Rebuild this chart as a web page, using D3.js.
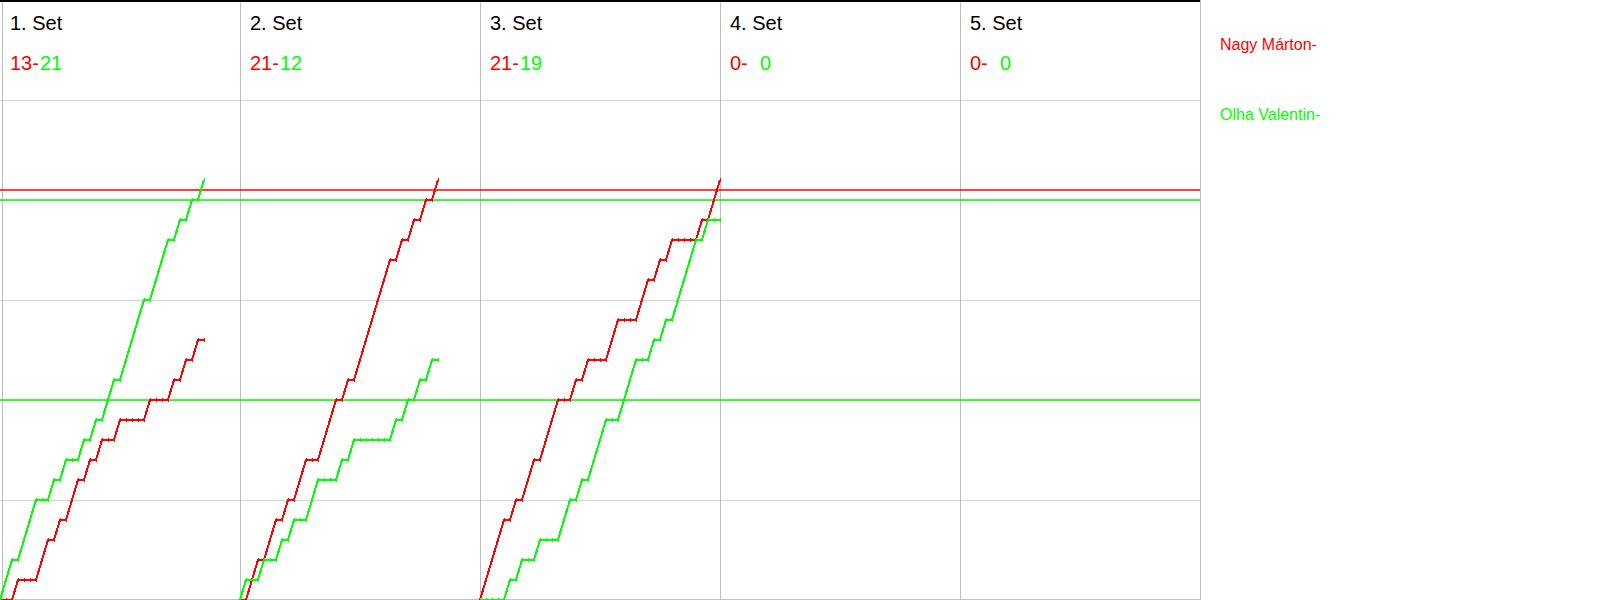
<!DOCTYPE html>
<html>
<head>
<meta charset="utf-8">
<script src="https://cdn.jsdelivr.net/npm/d3@7"></script>
<style>
  html, body { margin: 0; padding: 0; background: #fff; }
  svg { display: block; }
  text { font-family: "Liberation Sans", Arial, sans-serif; }
</style>
</head>
<body>
<div id="chart"></div>
<script>
// ---------- DATA ----------
const players = ["Nagy Márton-", "Olha Valentin-"];
const playerColors = ["#ff0000", "#00ff00"];
const setLabels = ["1. Set", "2. Set", "3. Set", "4. Set", "5. Set"];
const redFinal = [13, 21, 21, 0, 0];
const greenFinal = [21, 12, 19, 0, 0];

// cumulative score after each rally (index 0 = start of set)
const set1Red   = [0,0,0,1,1,1,1,2,3,3,4,4,5,6,6,7,7,8,8,8,9,9,9,9,9,10,10,10,10,11,11,12,12,13,13];
const set1Green = [0,1,2,2,3,4,5,5,5,6,6,7,7,7,8,8,9,9,10,11,11,12,13,14,15,15,16,17,18,18,19,19,20,20,21];
const set2Red   = [0,0,1,2,2,3,4,4,5,5,6,7,7,7,8,9,10,10,11,11,12,13,14,15,16,17,17,18,18,19,19,20,20,21];
const set2Green = [0,1,1,1,2,2,2,3,3,4,4,4,5,6,6,6,6,7,7,8,8,8,8,8,8,8,9,9,10,10,11,11,12,12];
const set3Red   = [0,1,2,3,4,4,5,5,6,7,7,8,9,10,10,10,11,11,12,12,12,12,13,14,14,14,14,15,16,16,17,17,18,18,18,18,18,19,19,20,21];
const set3Green = [0,0,0,0,0,1,1,2,2,2,3,3,3,3,4,5,5,6,6,7,8,9,9,9,10,11,12,12,12,13,13,14,14,15,16,17,18,18,19,19,19];
const set4Red = [], set4Green = [], set5Red = [], set5Green = [];

// reference score levels
const redRefLevels = [20.5];
const greenRefLevels = [20, 10];
const gridLevels = [5, 10, 15, 20, 25];

// ---------- CHART ----------
const W = 1600, H = 600;
const panelW = 240, nSets = 5;
const plotRight = panelW * nSets;
const maxRallies = 40;

const svg = d3.select("#chart").append("svg").attr("width", W).attr("height", H);

const y = d3.scaleLinear().domain([0, 30]).range([600, 0]);
const panelX = d3.scaleLinear().domain([0, nSets]).range([0, plotRight]);

// horizontal grid
svg.append("g").selectAll("line").data(gridLevels).join("line")
  .attr("x1", 0).attr("x2", plotRight)
  .attr("y1", d => Math.round(y(d)) + 0.5).attr("y2", d => Math.round(y(d)) + 0.5)
  .attr("stroke", "#d4d4d4").attr("stroke-width", 1);

// bottom line
svg.append("line").attr("x1", 0).attr("x2", plotRight)
  .attr("y1", y(0) - 0.5).attr("y2", y(0) - 0.5)
  .attr("stroke", "#c0c0c0").attr("stroke-width", 1);

// vertical panel separators
const sepX = d3.range(0, nSets + 1).map(i => i === 0 ? 2.5 : panelX(i) + 0.5);
svg.append("g").selectAll("line").data(sepX).join("line")
  .attr("x1", d => d).attr("x2", d => d).attr("y1", 0).attr("y2", H)
  .attr("stroke", "#bdbdbd").attr("stroke-width", 1);

// top border
svg.append("line").attr("x1", 0).attr("x2", plotRight).attr("y1", 1).attr("y2", 1)
  .attr("stroke", "#000").attr("stroke-width", 2);

// reference lines
svg.append("g").selectAll("line").data(redRefLevels).join("line")
  .attr("x1", 0).attr("x2", plotRight).attr("y1", d => y(d)).attr("y2", d => y(d))
  .attr("stroke", playerColors[0]).attr("stroke-width", 1.5);
svg.append("g").selectAll("line").data(greenRefLevels).join("line")
  .attr("x1", 0).attr("x2", plotRight).attr("y1", d => y(d)).attr("y2", d => y(d))
  .attr("stroke", playerColors[1]).attr("stroke-width", 1.5);

// set headers
const hdr = svg.append("g");
setLabels.forEach((lab, i) => {
  const px = panelX(i);
  hdr.append("text").attr("x", px + 10).attr("y", 30)
    .attr("font-size", 20).attr("fill", "#000").text(lab);
  hdr.append("text").attr("x", px + 10).attr("y", 70)
    .attr("font-size", 20).attr("fill", playerColors[0]).text(redFinal[i] + "-");
  hdr.append("text").attr("x", px + 40).attr("y", 70)
    .attr("font-size", 20).attr("fill", playerColors[1]).text(greenFinal[i]);
});

// legend
players.forEach((p, i) => {
  svg.append("text").attr("x", 1220).attr("y", 50 + i * 70)
    .attr("font-size", 16).attr("fill", playerColors[i]).text(p);
});

// score progression lines
const sets = [
  [set1Red, set1Green], [set2Red, set2Green], [set3Red, set3Green],
  [set4Red, set4Green], [set5Red, set5Green]
];
sets.forEach((pair, si) => {
  const x = d3.scaleLinear().domain([0, maxRallies])
    .range([panelX(si), panelX(si) + panelW]);
  const line = d3.line().x((d, i) => x(i)).y(d => y(d));
  pair.forEach((series, pi) => {
    if (!series.length) return;
    const g = svg.append("g");
    g.append("path").datum(series)
      .attr("d", line)
      .attr("fill", "none")
      .attr("stroke", playerColors[pi])
      .attr("stroke-width", 2)
      .attr("shape-rendering", "crispEdges");
    g.selectAll("line").data(series).join("line")
      .attr("x1", (d, i) => Math.round(x(i)) + 0.5)
      .attr("x2", (d, i) => Math.round(x(i)) + 0.5)
      .attr("y1", d => y(d) - 2).attr("y2", d => y(d) + 2)
      .attr("stroke", playerColors[pi]).attr("stroke-width", 1)
      .attr("shape-rendering", "crispEdges");
  });
});
</script>
</body>
</html>
